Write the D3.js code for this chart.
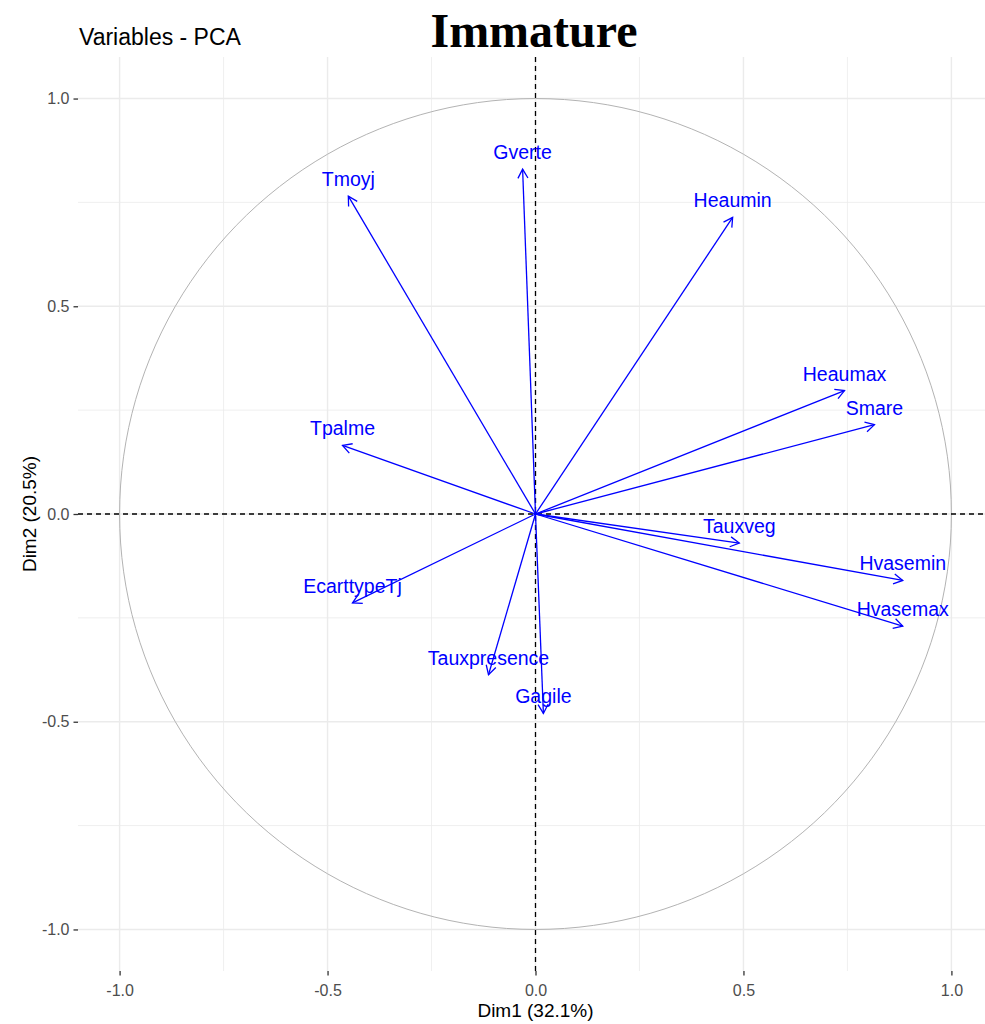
<!DOCTYPE html>
<html>
<head>
<meta charset="utf-8">
<script src="https://cdn.jsdelivr.net/npm/d3@7"></script>
<style>
  body { margin: 0; background: #fff; }
  svg { display: block; }
</style>
</head>
<body>
<div id="viz"></div>
<script>
const variables = ["Tmoyj", "Gverte", "Heaumin", "Heaumax", "Smare", "Tpalme", "Tauxveg",
                   "Hvasemin", "Hvasemax", "EcarttypeTj", "Tauxpresence", "Gagile"];
const dim1 = [-0.45, -0.031, 0.474, 0.743, 0.815, -0.464, 0.49, 0.883, 0.883, -0.44, -0.113, 0.019];
const dim2 = [0.765, 0.83, 0.714, 0.297, 0.215, 0.165, -0.07, -0.16, -0.27, -0.214, -0.387, -0.48];
const majorTicks = [-1.0, -0.5, 0.0, 0.5, 1.0];
const minorTicks = [-0.75, -0.25, 0.25, 0.75];

const width = 985;
const height = 1024;
const margin = { top: 57, left: 78 };
const panelW = 915;
const panelH = 914;

const svg = d3.select('#viz').append('svg')
    .attr('width', width)
    .attr('height', height);

const x = d3.scaleLinear().domain([-1.1, 1.1]).range([margin.left, margin.left + panelW]);
const y = d3.scaleLinear().domain([-1.1, 1.1]).range([margin.top + panelH, margin.top]);

const panel = svg.append('g');

// minor grid
minorTicks.forEach(t => {
    panel.append('line')
        .attr('x1', x(t)).attr('x2', x(t))
        .attr('y1', y.range()[0]).attr('y2', y.range()[1])
        .attr('stroke', '#ebebeb').attr('stroke-width', 0.8);
    panel.append('line')
        .attr('x1', x.range()[0]).attr('x2', x.range()[1])
        .attr('y1', y(t)).attr('y2', y(t))
        .attr('stroke', '#ebebeb').attr('stroke-width', 0.8);
});

// major grid
majorTicks.forEach(t => {
    panel.append('line')
        .attr('x1', x(t)).attr('x2', x(t))
        .attr('y1', y.range()[0]).attr('y2', y.range()[1])
        .attr('stroke', '#ebebeb').attr('stroke-width', 1.4);
    panel.append('line')
        .attr('x1', x.range()[0]).attr('x2', x.range()[1])
        .attr('y1', y(t)).attr('y2', y(t))
        .attr('stroke', '#ebebeb').attr('stroke-width', 1.4);
});

// correlation circle
const circle = d3.range(0, 361, 2).map(a => [Math.cos(a * Math.PI / 180), Math.sin(a * Math.PI / 180)]);
panel.append('path')
    .attr('d', d3.line().x(d => x(d[0])).y(d => y(d[1]))(circle))
    .attr('fill', 'none')
    .attr('stroke', '#b3b3b3')
    .attr('stroke-width', 1);

// zero lines
panel.append('line')
    .attr('x1', x.range()[0]).attr('x2', x.range()[1])
    .attr('y1', y(0)).attr('y2', y(0))
    .attr('stroke', '#000').attr('stroke-width', 1.3)
    .attr('stroke-dasharray', '5,4');
panel.append('line')
    .attr('x1', x(0)).attr('x2', x(0))
    .attr('y1', y.range()[0]).attr('y2', y.range()[1])
    .attr('stroke', '#000').attr('stroke-width', 1.3)
    .attr('stroke-dasharray', '5,4');

// arrows
svg.append('defs').append('marker')
    .attr('id', 'arrow')
    .attr('viewBox', '-10 -6 12 12')
    .attr('refX', 0).attr('refY', 0)
    .attr('markerWidth', 12).attr('markerHeight', 12)
    .attr('markerUnits', 'userSpaceOnUse')
    .attr('orient', 'auto')
    .append('path')
    .attr('d', 'M-9,-5 L0,0 L-9,5')
    .attr('fill', 'none')
    .attr('stroke', '#0000ff')
    .attr('stroke-width', 1.3);

const data = variables.map((v, i) => ({ name: v, d1: dim1[i], d2: dim2[i] }));

panel.selectAll('line.arrow')
    .data(data)
    .enter()
    .append('line')
    .attr('class', 'arrow')
    .attr('x1', x(0)).attr('y1', y(0))
    .attr('x2', d => x(d.d1)).attr('y2', d => y(d.d2))
    .attr('stroke', '#0000ff')
    .attr('stroke-width', 1.3)
    .attr('marker-end', 'url(#arrow)');

panel.selectAll('text.lab')
    .data(data)
    .enter()
    .append('text')
    .attr('class', 'lab')
    .attr('x', d => x(d.d1))
    .attr('y', d => y(d.d2) - 10)
    .attr('text-anchor', 'middle')
    .attr('font-family', 'Liberation Sans, Arial, sans-serif')
    .attr('font-size', '19.5px')
    .attr('fill', '#0000ff')
    .text(d => d.name);

// axes
const axisFont = 'Liberation Sans, Arial, sans-serif';
const fmt = d => d.toFixed(1);
const xAxis = svg.append('g')
    .attr('transform', `translate(0,${y.range()[0]})`)
    .call(d3.axisBottom(x).tickValues(majorTicks).tickFormat(fmt).tickSize(4.5).tickPadding(5));
const yAxis = svg.append('g')
    .attr('transform', `translate(${x.range()[0]},0)`)
    .call(d3.axisLeft(y).tickValues(majorTicks).tickFormat(fmt).tickSize(4.5).tickPadding(4));
[xAxis, yAxis].forEach(a => {
    a.select('.domain').remove();
    a.selectAll('line').attr('stroke', '#333').attr('stroke-width', 1.3);
    a.selectAll('text')
        .attr('font-family', axisFont)
        .attr('font-size', '16px')
        .attr('fill', '#4d4d4d');
});
xAxis.selectAll('text').attr('dy', '0.95em');

svg.append('text')
    .attr('x', x(0)).attr('y', 1016.5)
    .attr('text-anchor', 'middle')
    .attr('font-family', axisFont)
    .attr('font-size', '19px')
    .attr('fill', '#000')
    .text('Dim1 (32.1%)');

svg.append('text')
    .attr('transform', `translate(36,${y(0)}) rotate(-90)`)
    .attr('text-anchor', 'middle')
    .attr('font-family', axisFont)
    .attr('font-size', '19px')
    .attr('fill', '#000')
    .text('Dim2 (20.5%)');

svg.append('text')
    .attr('x', 79).attr('y', 45)
    .attr('font-family', axisFont)
    .attr('font-size', '23px')
    .attr('fill', '#000')
    .text('Variables - PCA');

svg.append('text')
    .attr('x', 534).attr('y', 46.5)
    .attr('text-anchor', 'middle')
    .attr('font-family', 'Liberation Serif, Times New Roman, serif')
    .attr('font-weight', 'bold')
    .attr('font-size', '48px')
    .attr('fill', '#000')
    .text('Immature');
</script>
</body>
</html>
